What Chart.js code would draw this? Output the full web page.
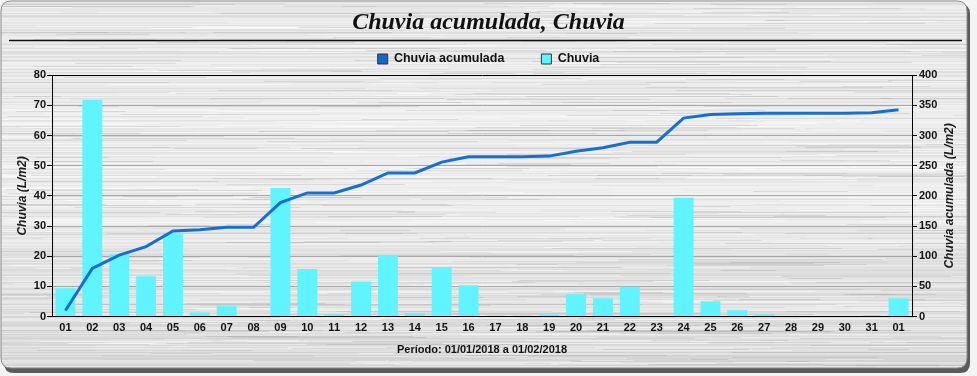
<!DOCTYPE html>
<html>
<head>
<meta charset="utf-8">
<script src="https://cdn.jsdelivr.net/npm/chart.js@4.4.1/dist/chart.umd.min.js"></script>
<style>
  html, body { margin: 0; padding: 0; background: #ffffff; }
  #wrap { width: 977px; height: 376px; }
</style>
</head>
<body>
<div id="wrap"><canvas id="chart" width="977" height="376"></canvas></div>
<script>
// Days of the period 01/01/2018 .. 01/02/2018
const DAYS = ['01', '02', '03', '04', '05', '06', '07', '08', '09', '10',
              '11', '12', '13', '14', '15', '16', '17', '18', '19', '20',
              '21', '22', '23', '24', '25', '26', '27', '28', '29', '30',
              '31', '01'];

// Daily rain (L/m2), left axis
const CHUVIA = [9.4, 71.8, 20.7, 13.4, 27.6, 1.4, 3.4, 0, 42.6, 15.8,
                0.8, 11.6, 20.4, 1.2, 16.4, 10.4, 0.4, 0.4, 0.8, 7.4,
                6.1, 9.9, 0, 39.4, 5.1, 2.1, 0.8, 0, 0, 0,
                0.4, 6.1];

// Accumulated rain (L/m2), right axis
const CHUVIA_ACUMULADA = [10, 80, 102, 116, 142, 144, 148, 148, 189, 205,
                          205, 218, 238, 238, 256, 265, 265, 265, 266, 274,
                          280, 289, 289, 329, 335, 336, 337, 337, 337, 337,
                          338, 343];

const LEFT_MAX = 80, LEFT_STEP = 10;
const RIGHT_MAX = 400, RIGHT_STEP = 50;

const FONT = "'Liberation Sans', Arial, sans-serif";

function roundRect(ctx, x, y, w, h, r) {
    ctx.beginPath();
    ctx.moveTo(x + r, y);
    ctx.lineTo(x + w - r, y);
    ctx.quadraticCurveTo(x + w, y, x + w, y + r);
    ctx.lineTo(x + w, y + h - r);
    ctx.quadraticCurveTo(x + w, y + h, x + w - r, y + h);
    ctx.lineTo(x + r, y + h);
    ctx.quadraticCurveTo(x, y + h, x, y + h - r);
    ctx.lineTo(x, y + r);
    ctx.quadraticCurveTo(x, y, x + r, y);
    ctx.closePath();
}

// cheap deterministic hash for the brushed metal texture
function hash(n) {
    const v = Math.sin(n * 12.9898 + 78.233) * 43758.5453;
    return v - Math.floor(v);
}

// Brushed metal panel, title rule and right axis title
const panelPlugin = {
    id: 'panel',
    beforeDraw(chart) {
        const ctx = chart.ctx;
        const w = chart.width, h = chart.height;
        ctx.save();
        ctx.fillStyle = '#f4f4f4';
        ctx.fillRect(0, 0, w, h);

        roundRect(ctx, 4, 4, 966, 369, 10);
        ctx.fillStyle = '#5a5a5a';
        ctx.fill();

        roundRect(ctx, 1, 1, 966, 367, 10);
        const g = ctx.createLinearGradient(0, 0, 0, h);
        g.addColorStop(0, '#e6e6e6');
        g.addColorStop(0.45, '#eeeeee');
        g.addColorStop(1, '#dadada');
        ctx.fillStyle = g;
        ctx.fill();
        ctx.save();
        ctx.clip();
        for (let y = 0; y < h; y++) {
            const f = hash(y);
            ctx.fillStyle = f > 0.5 ? 'rgba(255,255,255,' + ((f - 0.5) * 0.7).toFixed(3) + ')'
                                    : 'rgba(120,120,120,' + (f * 0.22).toFixed(3) + ')';
            ctx.fillRect(0, y, w, 1);
        }
        for (let i = 0; i < 700; i++) {
            const x = hash(i + 1000) * w;
            const y = Math.floor(hash(i + 3000) * h);
            const len = 40 + hash(i + 5000) * 260;
            ctx.fillStyle = hash(i + 7000) > 0.45 ? 'rgba(255,255,255,0.4)' : 'rgba(110,110,110,0.16)';
            ctx.fillRect(x - len / 2, y, len, 1);
        }
        ctx.restore();
        roundRect(ctx, 1, 1, 966, 367, 10);
        ctx.strokeStyle = '#8a8a8a';
        ctx.lineWidth = 1;
        ctx.stroke();

        // rule under the title
        ctx.beginPath();
        ctx.moveTo(9, 40.5);
        ctx.lineTo(962, 40.5);
        ctx.strokeStyle = '#111';
        ctx.lineWidth = 1.5;
        ctx.stroke();
        ctx.restore();
    },
    afterDraw(chart) {
        const ctx = chart.ctx;
        const area = chart.chartArea;
        ctx.save();
        ctx.translate(950, (area.top + area.bottom) / 2);
        ctx.rotate(-Math.PI / 2);
        ctx.font = 'italic bold 12px ' + FONT;
        ctx.fillStyle = '#1a1a1a';
        ctx.textAlign = 'center';
        ctx.textBaseline = 'middle';
        ctx.fillText('Chuvia acumulada (L/m2)', 0, 0);
        ctx.restore();
    }
};

const ctx = document.getElementById('chart').getContext('2d');
new Chart(ctx, {
    data: {
        labels: DAYS,
        datasets: [{
            type: 'line',
            label: 'Chuvia acumulada',
            data: CHUVIA_ACUMULADA,
            yAxisID: 'y1',
            borderColor: '#1670d2',
            backgroundColor: '#1466c8',
            borderWidth: 3,
            pointRadius: 0,
            tension: 0,
            order: 0
        }, {
            type: 'bar',
            label: 'Chuvia',
            data: CHUVIA,
            yAxisID: 'y',
            backgroundColor: '#5ff4ff',
            barPercentage: 0.74,
            categoryPercentage: 1,
            order: 1
        }]
    },
    options: {
        responsive: false,
        animation: false,
        devicePixelRatio: 1,
        layout: { padding: { left: 0, right: 0, top: 1, bottom: 15 } },
        plugins: {
            tooltip: { enabled: false },
            title: {
                display: true,
                text: 'Chuvia acumulada, Chuvia',
                color: '#111',
                font: { family: "'Liberation Serif', 'Times New Roman', serif", size: 24, style: 'italic', weight: 'bold' },
                padding: { top: 7, bottom: -21.05 }
            },
            legend: {
                display: true,
                labels: {
                    color: '#111',
                    font: { family: FONT, size: 12.5, weight: 'bold' },
                    boxWidth: 10,
                    boxHeight: 10,
                    padding: 37,
                    generateLabels: chart => {
                        const items = Chart.defaults.plugins.legend.labels.generateLabels(chart);
                        items.forEach(it => { it.lineWidth = 1; it.strokeStyle = '#333'; });
                        return items;
                    }
                }
            }
        },
        scales: {
            x: {
                grid: { display: false, drawTicks: false, tickLength: 0 },
                border: { display: true, color: '#000', width: 1 },
                ticks: {
                    autoSkip: false,
                    maxRotation: 0,
                    padding: 5,
                    color: '#111',
                    font: { family: FONT, size: 11, weight: 'bold' }
                },
                title: {
                    display: true,
                    text: 'Período: 01/01/2018 a 01/02/2018',
                    color: '#111',
                    font: { family: FONT, size: 11, weight: 'bold' },
                    padding: { top: 4, bottom: 4 }
                }
            },
            y: {
                position: 'left',
                min: 0,
                max: LEFT_MAX,
                afterFit: s => { s.width = 52; },
                grid: {
                    color: c => (c.tick && (c.tick.value === LEFT_MAX || c.tick.value === 0)) ? '#000' : '#a6a6a6',
                    tickColor: '#000',
                    tickLength: 5,
                    lineWidth: 1
                },
                border: { display: true, color: '#000', width: 1 },
                ticks: {
                    stepSize: LEFT_STEP,
                    padding: 1,
                    color: '#111',
                    font: { family: FONT, size: 11, weight: 'bold' }
                },
                title: {
                    display: true,
                    text: 'Chuvia (L/m2)',
                    color: '#1a1a1a',
                    font: { family: FONT, size: 12, weight: 'bold', style: 'italic' },
                    padding: { top: 15, bottom: 2 }
                }
            },
            y1: {
                position: 'right',
                min: 0,
                max: RIGHT_MAX,
                afterFit: s => { s.width = 65; },
                grid: {
                    drawOnChartArea: false,
                    tickColor: '#000',
                    tickLength: 5
                },
                border: { display: true, color: '#000', width: 1 },
                ticks: {
                    stepSize: RIGHT_STEP,
                    padding: 2,
                    color: '#111',
                    font: { family: FONT, size: 11, weight: 'bold' }
                }
            }
        }
    },
    plugins: [panelPlugin]
});
</script>
</body>
</html>
